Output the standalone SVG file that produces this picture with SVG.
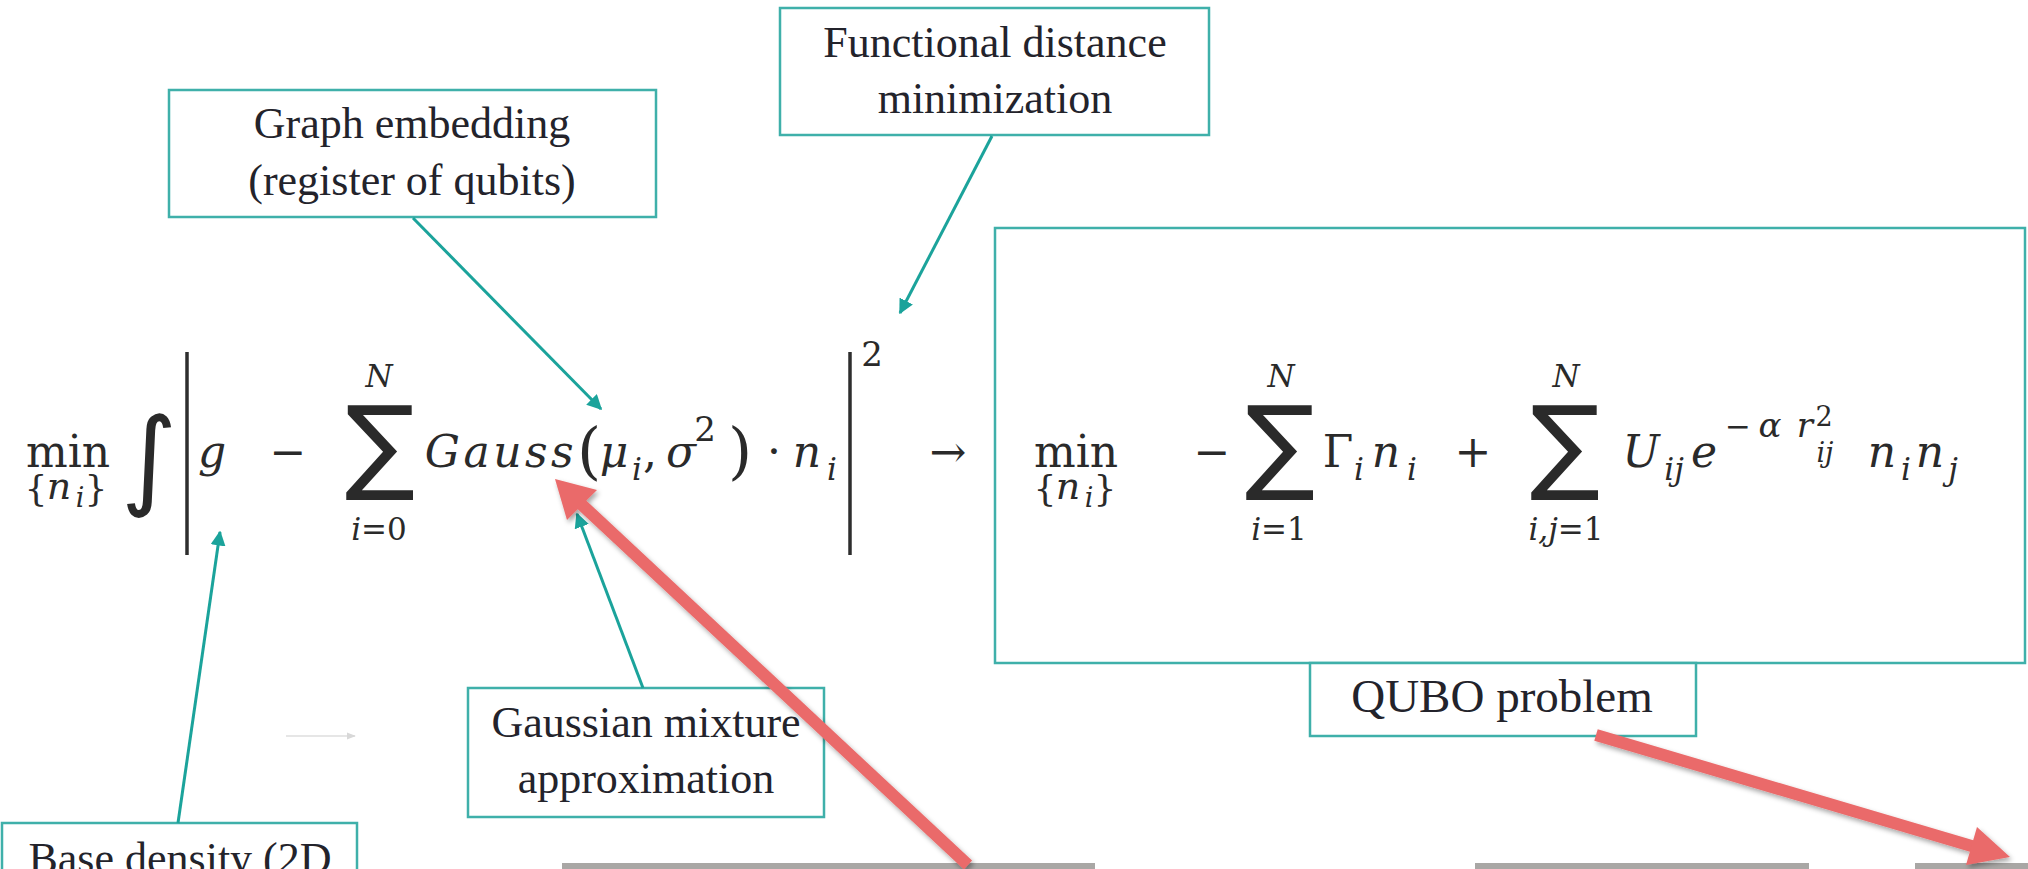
<svg xmlns="http://www.w3.org/2000/svg" width="2028" height="869" viewBox="0 0 2028 869">
<defs>
<style>
.box{fill:#fff;stroke:#3fb0aa;stroke-width:2.5}
.lbl{font-family:"Liberation Serif","Times New Roman",serif;font-size:44px;fill:#23232b;text-anchor:middle}
.f{font-family:"DejaVu Serif",serif;font-size:44px;fill:#2a2a2a;text-anchor:middle}
.it{font-style:italic}
.s31{font-size:31px}
.s34{font-size:34px}
.s36{font-size:36px}
.s38{font-size:38px}
.sub{font-size:31px;font-style:italic}
.s27{font-size:27px}
.s62{font-size:62px}
.op{font-family:"DejaVu Sans",sans-serif;font-size:104px}
.int{font-family:"DejaVu Sans",sans-serif;font-style:italic;font-size:108px}
.bar{stroke:#2e2e2e;stroke-width:3.5}
.teal{stroke:#1ba39b;stroke-width:3;fill:none}
.red{stroke:#ea6a6a;stroke-width:12;fill:none}
.grey{fill:#a9a7a5}
</style>
<marker id="ta" viewBox="0 0 10 10" refX="9" refY="5" markerWidth="5" markerHeight="5" orient="auto" markerUnits="strokeWidth">
<path d="M0,0 L10,5 L0,10 z" fill="#1ba39b"/>
</marker>
<marker id="ga" viewBox="0 0 10 10" refX="9" refY="5" markerWidth="6" markerHeight="6" orient="auto" markerUnits="strokeWidth">
<path d="M0,1 L10,5 L0,9 z" fill="#d8d8d8"/>
</marker>
<filter id="sh" x="-20%" y="-20%" width="140%" height="140%">
<feDropShadow dx="2" dy="3" stdDeviation="2.5" flood-color="#000" flood-opacity="0.35"/>
</filter>
</defs>
<rect width="2028" height="869" fill="#fff"/>

<g id="formula-left">
<text class="f"><tspan x="68" y="467">min</tspan><tspan class="s36" x="36" y="501">{</tspan><tspan class="it s38" x="59" y="499">n</tspan><tspan class="sub s27" x="80" y="507">i</tspan><tspan class="s36" x="96" y="501">}</tspan><tspan class="int" x="149" y="495">∫</tspan><tspan class="it" x="212" y="467">g</tspan><tspan x="288" y="467">−</tspan><tspan class="op" x="380" y="480">∑</tspan><tspan class="it s31" x="379" y="387">N</tspan><tspan class="it s31" x="379" y="540">i</tspan><tspan class="s31">=0</tspan><tspan class="it" x="501" y="467" letter-spacing="3.5">Gauss</tspan><tspan class="s62" x="589" y="472">(</tspan><tspan class="it" x="614" y="467">μ</tspan><tspan class="sub" x="637" y="480">i</tspan><tspan x="650" y="467">,</tspan><tspan class="it" x="681" y="467">σ</tspan><tspan class="s34" x="705" y="441">2</tspan><tspan class="s62" x="740" y="472">)</tspan><tspan x="774" y="467">·</tspan><tspan class="it" x="807" y="467">n</tspan><tspan class="sub" x="832" y="480">i</tspan><tspan class="s34" x="872" y="366">2</tspan><tspan x="948" y="467">→</tspan></text>
<line class="bar" x1="187" y1="352" x2="187" y2="555"/>
<line class="bar" x1="850" y1="352" x2="850" y2="555"/>
</g>

<g id="qubo-box">
<rect class="box" x="995" y="228" width="1030" height="435"/>
</g>

<g id="formula-right">
<text class="f"><tspan x="1076" y="467">min</tspan><tspan class="s36" x="1045" y="501">{</tspan><tspan class="it s38" x="1068" y="499">n</tspan><tspan class="sub s27" x="1089" y="507">i</tspan><tspan class="s36" x="1105" y="501">}</tspan><tspan x="1212" y="467">−</tspan><tspan class="op" x="1280" y="480">∑</tspan><tspan class="it s31" x="1281" y="387">N</tspan><tspan class="it s31" x="1279" y="540">i</tspan><tspan class="s31">=1</tspan><tspan x="1338" y="467">Γ</tspan><tspan class="sub" x="1359" y="480">i</tspan><tspan class="it" x="1386" y="467">n</tspan><tspan class="sub" x="1412" y="480">i</tspan><tspan x="1473" y="467">+</tspan><tspan class="op" x="1565" y="480">∑</tspan><tspan class="it s31" x="1566" y="387">N</tspan><tspan class="it s31" x="1566" y="540">i,j</tspan><tspan class="s31">=1</tspan><tspan class="it" x="1641" y="467">U</tspan><tspan class="sub" x="1674" y="480">ij</tspan><tspan class="it" x="1704" y="467">e</tspan><tspan class="s31" x="1738" y="437">−</tspan><tspan class="it s34" x="1770" y="437">α</tspan><tspan class="it s34" x="1805" y="437">r</tspan><tspan class="s27" x="1824" y="426">2</tspan><tspan class="sub s27" x="1825" y="462">ij</tspan><tspan class="it" x="1882" y="467">n</tspan><tspan class="sub" x="1906" y="480">i</tspan><tspan class="it" x="1930" y="467">n</tspan><tspan class="sub" x="1953" y="480">j</tspan></text>
</g>

<g id="node-graph-embedding">
<rect class="box" x="169" y="90" width="487" height="127"/>
<text class="lbl"><tspan x="412" y="138">Graph embedding</tspan><tspan x="412" y="195">(register of qubits)</tspan></text>
</g>

<g id="node-functional-distance">
<rect class="box" x="780" y="8" width="429" height="127"/>
<text class="lbl"><tspan x="995" y="57">Functional distance</tspan><tspan x="995" y="113">minimization</tspan></text>
</g>

<g id="node-gaussian-mixture">
<rect class="box" x="468" y="688" width="356" height="129"/>
<text class="lbl"><tspan x="646" y="737">Gaussian mixture</tspan><tspan x="646" y="793">approximation</tspan></text>
</g>

<g id="node-base-density">
<rect class="box" x="2" y="823" width="355" height="60"/>
<text class="lbl" x="180" y="873">Base density (2D</text>
</g>

<g id="node-qubo-problem">
<rect class="box" x="1310" y="663" width="386" height="73"/>
<text class="lbl" x="1502" y="712" style="font-size:47px">QUBO problem</text>
</g>

<g id="bars">
<rect class="grey" x="562" y="863" width="533" height="6"/>
<rect class="grey" x="1475" y="863" width="334" height="6"/>
<rect class="grey" x="1915" y="863" width="113" height="6"/>
</g>

<g id="connectors">
<line class="teal" x1="413" y1="218" x2="601" y2="409" marker-end="url(#ta)"/>
<line class="teal" x1="992" y1="136" x2="900" y2="313" marker-end="url(#ta)"/>
<line class="teal" x1="178" y1="823" x2="220" y2="532" marker-end="url(#ta)"/>
<line class="teal" x1="643" y1="688" x2="577" y2="514" marker-end="url(#ta)"/>
<line x1="286" y1="736" x2="355" y2="736" stroke="#dedede" stroke-width="1.5" marker-end="url(#ga)"/>
<g filter="url(#sh)">
<line class="red" x1="968" y1="865" x2="580" y2="503"/>
<path d="M555,479 L597,490 L567,520 z" fill="#ea6a6a"/>
</g>
<g filter="url(#sh)">
<line class="red" x1="1596" y1="735" x2="1975" y2="847"/>
<path d="M2010,857 L1977,827 L1966,865 z" fill="#ea6a6a"/>
</g>
</g>
</svg>
